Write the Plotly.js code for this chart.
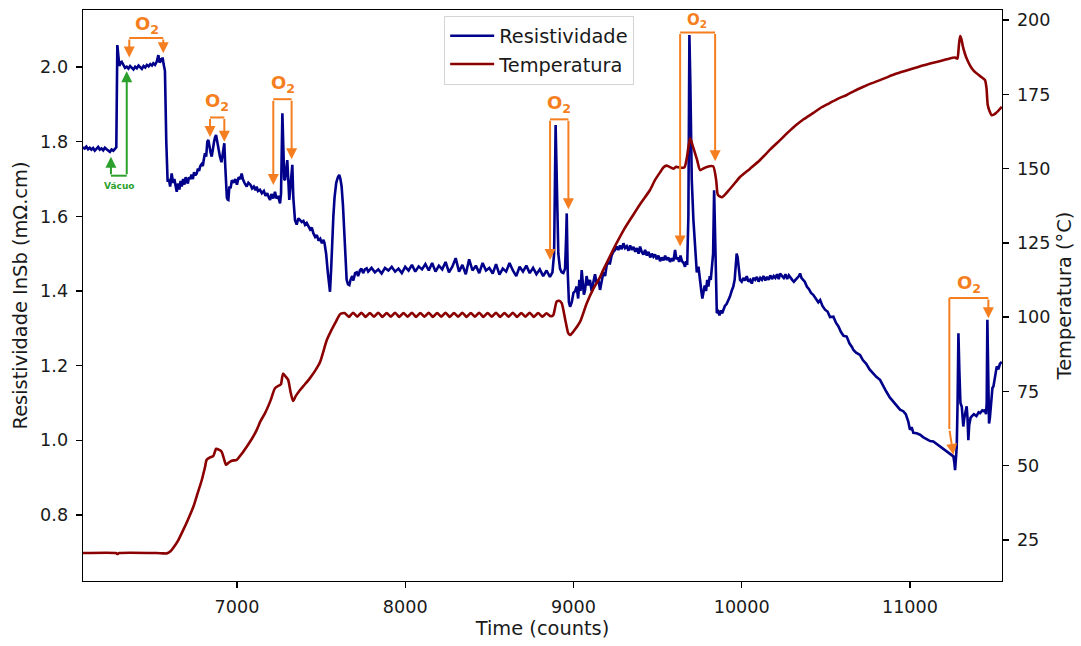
<!DOCTYPE html>
<html>
<head>
<meta charset="utf-8">
<script src="https://cdn.plot.ly/plotly-3.0.1.min.js"></script>
<style>
  html, body { margin: 0; padding: 0; background: #fff; }
  #chart { width: 1081px; height: 646px; }
</style>
</head>
<body>
<div id="chart"></div>
<script>
// InSb resistivity (mΩ.cm) vs time counts
const resPoints = [
  [6085,1.785],[6095,1.782],[6105,1.787],[6115,1.780],[6125,1.784],[6135,1.779],[6145,1.783],[6155,1.776],
  [6165,1.781],[6175,1.786],[6185,1.779],[6195,1.782],[6205,1.777],[6215,1.784],[6225,1.780],[6235,1.775],
  [6245,1.773],[6255,1.779],[6265,1.776],[6275,1.781],[6283,1.785],
  [6289,2.059],[6295,2.020],[6301,2.003],[6308,2.012],[6315,2.014],[6325,2.006],[6335,1.998],[6345,2.001],
  [6355,1.996],[6365,2.003],[6375,1.999],[6385,1.994],[6395,2.001],[6405,1.997],[6415,2.004],[6425,1.998],
  [6435,1.995],[6445,2.003],[6455,1.999],[6465,2.006],[6475,2.002],[6485,2.008],[6495,2.004],[6503,2.010],
  [6513,2.006],[6523,2.014],[6533,2.032],[6540,2.012],[6547,2.018],[6553,2.014],[6558,2.026],[6564,2.008],
  [6572,1.990],
  [6580,1.800],[6588,1.693],[6595,1.700],[6603,1.680],[6612,1.715],[6620,1.690],[6628,1.700],[6635,1.675],
  [6642,1.666],[6650,1.688],[6658,1.672],[6665,1.695],[6672,1.680],[6680,1.700],[6688,1.685],[6695,1.705],
  [6701,1.697],[6708,1.688],[6715,1.705],[6722,1.700],[6730,1.712],[6738,1.700],[6745,1.718],[6753,1.710],
  [6761,1.715],[6768,1.728],[6775,1.722],[6782,1.735],[6790,1.740],[6797,1.735],[6804,1.755],[6810,1.769],
  [6817,1.760],[6824,1.800],[6830,1.805],[6837,1.780],[6843,1.772],[6850,1.760],[6857,1.785],[6864,1.800],
  [6870,1.812],[6876,1.818],[6883,1.800],[6890,1.780],[6899,1.760],[6908,1.745],[6915,1.770],[6920,1.785],
  [6925,1.796],[6930,1.740],[6935,1.680],[6940,1.650],[6945,1.645],[6949,1.644],[6955,1.680],[6962,1.675],
  [6970,1.697],[6980,1.690],[6990,1.700],[7000,1.685],[7010,1.705],[7020,1.700],[7028,1.715],[7035,1.700],
  [7045,1.690],[7058,1.680],[7068,1.690],[7080,1.685],[7090,1.675],[7100,1.680],[7110,1.670],[7117,1.680],
  [7125,1.668],[7137,1.671],[7148,1.662],[7160,1.668],[7170,1.655],[7180,1.662],[7190,1.650],[7197,1.644],
  [7205,1.660],[7216,1.648],[7226,1.666],[7235,1.648],[7245,1.655],[7256,1.635],[7262,1.660],[7270,1.876],
  [7276,1.780],[7281,1.700],[7286,1.697],[7292,1.730],[7299,1.751],[7305,1.700],[7311,1.644],[7318,1.680],
  [7325,1.720],[7329,1.738],[7335,1.650],[7341,1.590],[7345,1.590],[7355,1.578],[7365,1.595],[7375,1.590],
  [7385,1.585],[7395,1.588],[7405,1.577],[7415,1.582],[7425,1.573],[7435,1.565],[7445,1.570],[7454,1.555],
  [7465,1.545],[7475,1.550],[7485,1.535],[7495,1.540],[7505,1.528],[7513,1.537],[7520,1.530],[7530,1.500],
  [7540,1.450],[7548,1.410],[7553,1.398],[7560,1.460],[7567,1.550],[7573,1.600],[7580,1.650],[7590,1.690],
  [7600,1.705],[7608,1.711],[7615,1.700],[7622,1.680],[7630,1.630],[7638,1.550],[7645,1.480],[7652,1.430],
  [7660,1.418],[7668,1.416],[7675,1.430],[7685,1.440],[7692,1.428],[7702,1.448],[7712,1.450],[7720,1.440],
  [7731,1.455],[7740,1.460],[7750,1.448],[7760,1.458],[7771,1.461],[7780,1.452],
  [7800,1.462],[7820,1.450],[7840,1.458],[7860,1.447],[7880,1.462],[7900,1.455],[7920,1.465],[7940,1.452],
  [7960,1.460],[7980,1.448],[8000,1.465],[8020,1.455],[8040,1.470],[8060,1.452],[8080,1.466],[8100,1.458],
  [8120,1.472],[8140,1.455],[8160,1.475],[8180,1.452],[8200,1.468],[8220,1.458],[8240,1.478],[8260,1.450],
  [8280,1.465],[8300,1.488],[8320,1.452],[8340,1.470],[8360,1.445],[8380,1.485],[8400,1.455],[8420,1.468],
  [8440,1.448],[8460,1.475],[8480,1.455],[8500,1.462],[8520,1.447],[8540,1.472],[8560,1.444],[8580,1.460],
  [8600,1.452],[8620,1.475],[8640,1.455],[8660,1.440],[8680,1.465],[8700,1.452],[8720,1.468],[8740,1.448],
  [8760,1.462],[8780,1.445],[8800,1.458],[8820,1.440],[8840,1.455],[8860,1.438],[8875,1.450],
  [8885,1.500],[8894,1.845],[8902,1.620],[8910,1.500],[8920,1.460],[8930,1.450],[8940,1.448],[8950,1.460],
  [8957,1.550],[8960,1.608],[8966,1.450],[8973,1.370],[8980,1.358],[8990,1.370],[9000,1.395],[9010,1.400],
  [9019,1.412],[9028,1.380],[9035,1.430],[9042,1.400],[9049,1.456],[9056,1.420],[9062,1.390],[9069,1.403],
  [9078,1.440],[9088,1.415],[9098,1.430],[9108,1.400],[9118,1.421],[9128,1.445],[9138,1.420],[9148,1.430],
  [9158,1.403],[9168,1.430],[9178,1.450],[9188,1.440],[9198,1.470],[9208,1.475],[9217,1.474],[9227,1.495],
  [9237,1.505],[9247,1.510],[9257,1.519],[9267,1.510],[9277,1.522],[9287,1.512],[9297,1.528],[9307,1.515],
  [9317,1.520],[9327,1.508],[9337,1.522],[9347,1.510],[9357,1.518],[9367,1.505],[9377,1.515],[9387,1.500],
  [9396,1.519],[9406,1.505],[9416,1.498],[9426,1.510],[9436,1.495],[9446,1.505],[9456,1.490],[9466,1.500],
  [9475,1.492],[9485,1.498],[9495,1.485],[9505,1.495],[9515,1.480],[9525,1.490],[9535,1.482],[9545,1.495],
  [9554,1.483],[9564,1.490],[9574,1.478],[9584,1.488],[9594,1.480],[9604,1.510],[9612,1.485],[9620,1.490],
  [9628,1.478],[9636,1.495],[9645,1.480],[9655,1.475],[9663,1.465],[9670,1.480],[9676,1.470],[9683,1.600],
  [9689,2.086],[9695,1.950],[9703,1.700],[9713,1.590],[9723,1.500],[9733,1.450],[9743,1.465],[9752,1.420],
  [9760,1.400],[9766,1.380],[9772,1.394],[9780,1.415],[9788,1.400],[9795,1.430],[9802,1.412],[9810,1.440],
  [9816,1.430],[9822,1.465],[9830,1.500],[9836,1.670],[9842,1.500],[9848,1.380],[9852,1.341],[9860,1.345],
  [9868,1.335],[9876,1.348],[9884,1.340],[9891,1.349],[9900,1.360],[9910,1.365],[9920,1.375],[9930,1.385],
  [9940,1.400],[9950,1.412],[9958,1.430],[9965,1.470],[9970,1.500],[9976,1.490],[9982,1.460],[9990,1.430],
  [10000,1.425],[10010,1.435],[10020,1.428],[10030,1.440],[10040,1.425],[10050,1.430],[10060,1.420],[10069,1.435],
  [10080,1.430],[10090,1.438],[10100,1.425],[10110,1.435],[10120,1.430],[10129,1.440],[10140,1.428],[10150,1.438],
  [10160,1.430],[10170,1.442],[10180,1.432],[10190,1.440],[10200,1.435],[10210,1.445],[10220,1.432],[10228,1.447],
  [10240,1.440],[10250,1.435],[10260,1.445],[10270,1.432],[10280,1.442],[10290,1.435],[10300,1.430],[10310,1.425],
  [10320,1.430],[10330,1.435],[10340,1.440],[10347,1.447],[10355,1.435],[10365,1.430],[10375,1.425],[10387,1.412],
  [10400,1.405],[10412,1.395],[10425,1.390],[10440,1.380],[10455,1.370],[10466,1.376],[10480,1.360],[10495,1.350],
  [10510,1.345],[10525,1.330],[10545,1.331],[10560,1.315],[10575,1.305],[10590,1.290],[10605,1.280],[10624,1.278],
  [10640,1.260],[10655,1.250],[10664,1.242],[10680,1.235],[10703,1.229],[10720,1.215],[10740,1.205],[10760,1.190],
  [10780,1.180],[10800,1.170],[10822,1.162],[10840,1.145],[10860,1.130],[10880,1.115],[10900,1.105],[10920,1.095],
  [10941,1.082],[10960,1.078],[10975,1.070],[10990,1.050],[11000,1.028],[11010,1.035],[11020,1.020],[11040,1.019],
  [11060,1.015],[11080,1.008],[11100,1.003],[11120,0.998],[11139,0.997],[11160,0.990],[11179,0.983],[11200,0.978],
  [11218,0.970],[11235,0.965],[11250,0.960],[11258,0.957],[11264,0.940],[11268,0.920],[11273,0.950],[11278,0.983],
  [11283,1.100],[11288,1.287],[11294,1.180],[11300,1.100],[11308,1.090],[11313,1.050],[11317,1.037],[11323,1.060],
  [11330,1.080],[11337,1.091],[11342,1.060],[11347,1.000],[11352,1.040],[11360,1.060],[11367,1.064],[11380,1.070],
  [11395,1.065],[11408,1.075],[11417,1.073],[11430,1.080],[11440,1.078],[11446,1.082],[11452,1.070],[11456,1.100],
  [11460,1.323],[11465,1.150],[11470,1.045],[11475,1.060],[11484,1.120],[11490,1.140],[11496,1.144],[11505,1.170],
  [11516,1.198],[11525,1.190],[11535,1.205],[11546,1.210]
];

// Sample temperature (°C) vs time counts
const tempPoints = [
  [6085,20.6],[6280,20.6],[6290,20.3],[6300,20.6],[6520,20.6],[6560,20.5],[6583,20.5],[6605,21.2],
  [6622,22.4],[6650,24.8],[6681,28.4],[6710,32.0],[6741,36.2],[6765,40.5],[6791,45.2],[6810,49.5],
  [6820,52.0],[6840,52.8],[6860,53.3],[6876,55.7],[6895,55.3],[6909,54.7],[6922,52.5],[6935,50.3],
  [6950,51.0],[6969,51.7],[6999,52.0],[7028,54.0],[7058,56.4],[7088,59.0],[7117,62.0],[7140,65.0],
  [7167,67.7],[7200,72.0],[7226,76.1],[7256,77.2],[7262,77.5],[7274,81.0],[7290,80.0],[7304,79.0],
  [7318,75.0],[7333,71.8],[7350,73.5],[7375,75.5],[7405,77.5],[7434,79.5],[7465,82.0],[7494,84.9],
  [7534,92.3],[7560,95.5],[7590,98.7],[7613,101.0],
  [7640,101.4],[7665,100.1],[7690,101.5],[7715,100.2],[7740,101.5],[7765,100.1],[7790,101.4],[7815,100.2],
  [7840,101.5],[7865,100.1],[7890,101.4],[7915,100.2],[7940,101.5],[7965,100.1],[7990,101.4],[8015,100.2],
  [8040,101.5],[8065,100.1],[8090,101.4],[8115,100.2],[8140,101.5],[8165,100.1],[8190,101.4],[8215,100.2],
  [8240,101.5],[8265,100.1],[8290,101.4],[8315,100.2],[8340,101.5],[8365,100.1],[8390,101.4],[8415,100.2],
  [8440,101.5],[8465,100.1],[8490,101.4],[8515,100.2],[8540,101.5],[8565,100.1],[8590,101.4],[8615,100.2],
  [8640,101.5],[8665,100.1],[8690,101.4],[8715,100.2],[8740,101.5],[8765,100.1],[8790,101.4],[8815,100.2],
  [8840,101.3],[8865,100.3],[8880,100.7],
  [8900,105.2],[8915,105.5],[8930,104.7],[8950,99.5],[8969,94.6],[8980,94.0],[9000,95.2],[9039,98.4],
  [9079,104.7],[9118,109.5],[9158,113.5],[9178,116.0],[9217,120.5],[9257,125.0],[9300,129.5],[9356,134.5],
  [9396,138.0],[9455,142.8],[9485,146.2],[9520,149.2],[9534,150.4],[9554,151.0],[9594,150.0],[9610,150.6],
  [9634,150.3],[9660,150.5],[9675,154.0],[9693,160.3],[9710,157.5],[9735,152.9],[9753,149.5],[9788,150.5],
  [9830,150.8],[9848,146.2],[9859,141.1],[9883,140.4],[9920,142.5],[9950,144.5],[9990,147.2],[10050,150.0],
  [10109,152.9],[10170,156.5],[10228,159.6],[10275,162.2],[10320,164.5],[10370,166.7],[10424,168.7],[10470,170.5],
  [10520,172.0],[10570,173.5],[10624,174.8],[10670,176.2],[10720,177.5],[10770,178.7],[10822,179.8],[10870,180.9],
  [10920,182.0],[10970,182.9],[11018,183.7],[11070,184.6],[11120,185.4],[11170,186.1],[11218,186.8],[11268,187.4],
  [11282,187.0],[11290,191.0],[11298,194.6],[11306,193.5],[11315,191.0],[11337,187.1],[11375,183.2],[11420,181.0],
  [11446,179.8],[11455,177.0],[11462,171.5],[11472,169.5],[11486,168.0],[11511,168.7],[11546,170.8]
];

const xTicks = [7000, 8000, 9000, 10000, 11000];
const resTicks = [0.8, 1.0, 1.2, 1.4, 1.6, 1.8, 2.0];
const tempTicks = [25, 50, 75, 100, 125, 150, 175, 200];

const NAVY = '#00008b';
const DARKRED = '#8b0000';
const ORANGE = '#f57f20';
const GREEN = '#2ca02c';
const FONT = 'DejaVu Sans, Verdana, sans-serif';
const TICK_FS = 17.6;
const LABEL_FS = 19.4;

const traces = [
  {
    x: resPoints.map(p => p[0]), y: resPoints.map(p => p[1]),
    type: 'scatter', mode: 'lines', name: 'Resistividade',
    line: { color: NAVY, width: 2.6 }, yaxis: 'y', legendgroup: 'a'
  },
  {
    x: tempPoints.map(p => p[0]), y: tempPoints.map(p => p[1]),
    type: 'scatter', mode: 'lines', name: 'Temperatura',
    line: { color: DARKRED, width: 2.6, shape: 'spline', smoothing: 0.6 }, yaxis: 'y2', legendgroup: 'b'
  }
];

// O2 injection brackets: horizontal bar at "top", arrows down to each tip
const brackets = [
  { x0: 6360, x1: 6562, top: 2.078, tip0: 2.026, tip1: 2.037, lx: 6465, ly: 2.113, size: 18 },
  { x0: 6840, x1: 6925, top: 1.865, tip0: 1.813, tip1: 1.800, lx: 6880, ly: 1.907, size: 18 },
  { x0: 7216, x1: 7325, top: 1.914, tip0: 1.684, tip1: 1.753, lx: 7272, ly: 1.956, size: 18 },
  { x0: 8861, x1: 8970, top: 1.860, tip0: 1.483, tip1: 1.619, lx: 8912, ly: 1.902, size: 18 },
  { x0: 9634, x1: 9842, top: 2.093, tip0: 1.519, tip1: 1.748, lx: 9735, ly: 2.126, size: 15 }
];

const shapes = [];
const annotations = [];

function arrow(x, y, ax, ay, color) {
  return {
    x: x, y: y, ax: ax, ay: ay, xref: 'x', yref: 'y', axref: 'x', ayref: 'y',
    text: '', showarrow: true, arrowhead: 2, arrowsize: 1.1, arrowwidth: 2,
    arrowcolor: color, standoff: 0, startstandoff: 0
  };
}
function bar(x0, y0, x1, y1, color) {
  return { type: 'line', xref: 'x', yref: 'y', x0: x0, y0: y0, x1: x1, y1: y1,
           line: { color: color, width: 2 } };
}
function o2Label(x, y, size) {
  return { x: x, y: y, xref: 'x', yref: 'y', showarrow: false,
           text: '<b>O<sub>2</sub></b>', font: { family: FONT, size: size, color: ORANGE } };
}

brackets.forEach(b => {
  shapes.push(bar(b.x0, b.top, b.x1, b.top, ORANGE));
  annotations.push(arrow(b.x0, b.tip0, b.x0, b.top, ORANGE));
  annotations.push(arrow(b.x1, b.tip1, b.x1, b.top, ORANGE));
  annotations.push(o2Label(b.lx, b.ly, b.size));
});

// last bracket: left leg bends toward the minimum
shapes.push(bar(11234, 1.381, 11466, 1.381, ORANGE));
shapes.push(bar(11234, 1.381, 11234, 1.030, ORANGE));
annotations.push(arrow(11258, 0.961, 11234, 1.030, ORANGE));
annotations.push(arrow(11466, 1.327, 11466, 1.381, ORANGE));
annotations.push(o2Label(11348, 1.420, 18));

// vacuum bracket
shapes.push(bar(6251, 1.709, 6345, 1.709, GREEN));
annotations.push(arrow(6251, 1.760, 6251, 1.709, GREEN));
annotations.push(arrow(6345, 1.989, 6345, 1.709, GREEN));
annotations.push({ x: 6296, y: 1.681, xref: 'x', yref: 'y', showarrow: false,
  text: '<b>Vácuo</b>', font: { family: FONT, size: 9, color: GREEN } });

const axisCommon = {
  showgrid: false, zeroline: false, showline: true, linecolor: '#000', linewidth: 1.4,
  ticks: 'outside', ticklen: 6, tickwidth: 1.4, tickcolor: '#000',
  tickfont: { family: FONT, size: TICK_FS, color: '#1a1a1a' }
};

const layout = {
  width: 1081, height: 646,
  margin: { l: 83, r: 79, t: 10, b: 65, pad: 0 },
  paper_bgcolor: '#fff', plot_bgcolor: '#fff',
  font: { family: FONT, size: TICK_FS, color: '#1a1a1a' },
  showlegend: true,
  legend: {
    x: 0.393, y: 0.99, xanchor: 'left', yanchor: 'top',
    bgcolor: 'rgba(255,255,255,0.85)', bordercolor: '#d4d4d4', borderwidth: 1,
    font: { family: FONT, size: LABEL_FS, color: '#1a1a1a' }, tracegroupgap: 0,
    itemwidth: 44
  },
  xaxis: Object.assign({}, axisCommon, {
    range: [6085, 11547], tickvals: xTicks, ticktext: xTicks.map(String), mirror: true,
    title: { text: 'Time (counts)', font: { family: FONT, size: LABEL_FS }, standoff: 6 },
    ticklabelstandoff: 3
  }),
  yaxis: Object.assign({}, axisCommon, {
    range: [0.623, 2.153], tickvals: resTicks, ticktext: resTicks.map(v => v.toFixed(1)),
    title: { text: 'Resistividade InSb (mΩ.cm)', font: { family: FONT, size: LABEL_FS }, standoff: 7 },
    ticklabelstandoff: 4
  }),
  yaxis2: Object.assign({}, axisCommon, {
    overlaying: 'y', side: 'right', range: [11.2, 203.4],
    tickvals: tempTicks, ticktext: tempTicks.map(String),
    title: { text: 'Temperatura (°C)', font: { family: FONT, size: LABEL_FS }, standoff: 8 },
    ticklabelstandoff: 4
  }),
  shapes: shapes,
  annotations: annotations
};

Plotly.newPlot('chart', traces, layout, { displayModeBar: false, staticPlot: true });
</script>
</body>
</html>
